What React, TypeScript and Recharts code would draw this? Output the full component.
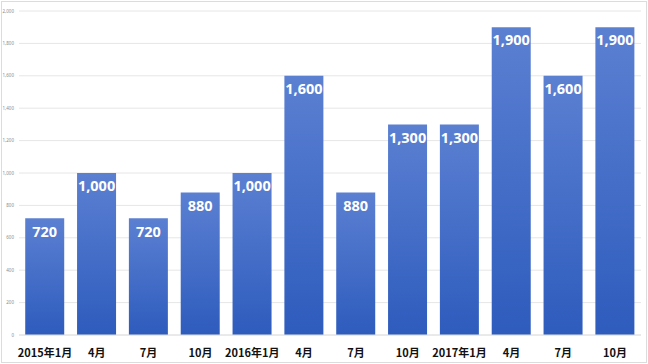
import { BarChart, Bar, XAxis, YAxis, CartesianGrid, LabelList } from 'recharts';

const periods = ['2015年1月', '4月', '7月', '10月', '2016年1月', '4月', '7月', '10月', '2017年1月', '4月', '7月', '10月'];
const counts = [720, 1000, 720, 880, 1000, 1600, 880, 1300, 1300, 1900, 1600, 1900];
const yTicks = [0, 200, 400, 600, 800, 1000, 1200, 1400, 1600, 1800, 2000];

const data = periods.map((p, i) => ({ key: i, label: p, value: counts[i] }));

const fmt = (v: number) => v.toLocaleString('en-US');

export default function App() {
  return (
    <div style={{ position: 'absolute', left: 0, top: 0, width: 648, height: 364, background: '#fff' }}>
      <div style={{ position: 'absolute', left: 1, top: 1, width: 644, height: 360, border: '1px solid #dcdcdc' }} />
      <BarChart
        width={648}
        height={364}
        data={data}
        margin={{ top: 11, right: 7, left: 0, bottom: 0 }}
        barCategoryGap="12%"
      >
        <defs>
          <linearGradient id="barFill" x1="0" y1="0" x2="0" y2="1">
            <stop offset="0%" stopColor="#5b80d2" />
            <stop offset="100%" stopColor="#2e5cbd" />
          </linearGradient>
        </defs>
        <CartesianGrid vertical={false} stroke="#e6e6e6" />
        <XAxis
          dataKey="key"
          tickFormatter={(i: number) => periods[i]}
          height={29}
          axisLine={{ stroke: '#e0e0e0' }}
          tickLine={false}
          interval={0}
          tick={{ fontSize: 11, fontWeight: 700, fill: '#111', fontFamily: '"Noto Sans CJK JP", sans-serif' }}
          tickMargin={8}
        />
        <YAxis
          domain={[0, 2000]}
          ticks={yTicks}
          width={19}
          axisLine={false}
          tickLine={false}
          tickSize={3}
          tickMargin={2}
          tickFormatter={fmt}
          tick={{ fontSize: 4.5, fill: '#8a8a8a', fontFamily: '"Noto Sans", sans-serif' }}
        />
        <Bar dataKey="value" fill="url(#barFill)" isAnimationActive={false}>
          <LabelList
            dataKey="value"
            position="insideTop"
            offset={8}
            formatter={(v: number) => fmt(v)}
            style={{ fill: '#fff', fontSize: 14.5, fontWeight: 700, fontFamily: '"Noto Sans", sans-serif' }}
          />
        </Bar>
      </BarChart>
    </div>
  );
}
